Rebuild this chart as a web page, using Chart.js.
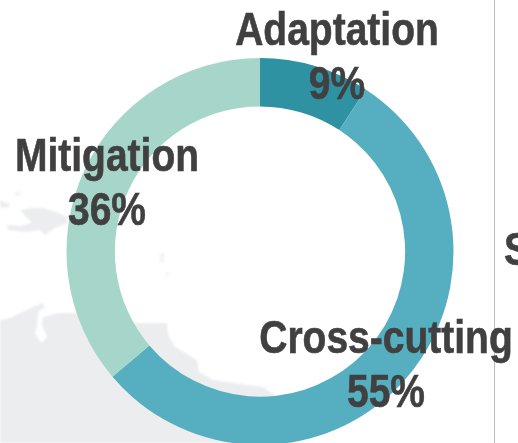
<!DOCTYPE html>
<html>
<head>
<meta charset="utf-8">
<style>
html, body { margin: 0; padding: 0; width: 518px; height: 443px; overflow: hidden; background: #fff; }
#map { position: absolute; left: 0; top: 0; filter: blur(0.8px); }
#wrap { position: absolute; left: 0; top: 0; width: 520px; height: 503px; }
#divider { position: absolute; left: 494px; top: 0; width: 1px; height: 443px; background: #bdbdbd; }
.lbl { position: absolute; color: #404040; font: bold 47px "Liberation Sans", sans-serif; -webkit-text-stroke: 0.6px #404040; text-align: center; line-height: 54px; white-space: nowrap; transform: translateX(-50%) scaleX(0.83); }
</style>
</head>
<body>
<!-- faint map behind the ring -->
<svg id="map" width="518" height="443">
  <path fill="#ecedef" d="M0 320 L10 318 L33 307 L42 303 L45 307 L38 312 L37 327 L35 333 L41 343 L47 337 L42 325 L43 317 L58 313 L77 313 L137 323 L167 323 L168 335 L175 347 L197 360 L199 372 L213 380 L263 387 L275 396 L275 443 L0 443 Z"/>
  <path fill="#ecedef" d="M0 200 L10 204 L7 208 L0 207 Z M20 210 L32 208 L43 208 L56 212 L67 217 L68 223 L55 228 L45 235 L40 230 L26 232 L8 230 L7 225 L20 226 L32 223 L25 216 Z"/>
  <path fill="#f3f4f5" d="M15 192 L22 191 L20 196 L15 196 Z M160 253 L164 253 L164 262 L160 262 Z M166 272 L169 272 L169 277 L166 277 Z"/>
</svg>
<div id="divider"></div>
<div id="wrap"><canvas id="donut"></canvas></div>
<div class="lbl" id="lbl0" style="left:337px;top:2px"></div>
<div class="lbl" id="lbl1" style="left:386px;top:310px"></div>
<div class="lbl" id="lbl2" style="left:107px;top:128px"></div>
<div class="lbl" style="left:517px;top:222px">S</div>
<script src="https://cdn.jsdelivr.net/npm/chart.js@4"></script>
<script>
const categories = ['Adaptation', 'Cross-cutting', 'Mitigation'];
const shares = [9.2, 54.6, 36.2];
const sliceColors = ['#2e92a3', '#55afc0', '#a6d6c9'];

// Labels show the rounded share
categories.forEach((name, i) => {
    document.getElementById('lbl' + i).innerHTML = name + '<br>' + Math.round(shares[i]) + '%';
});

new Chart(document.getElementById('donut').getContext('2d'), {
    type: 'doughnut',
    data: {
        labels: categories,
        datasets: [{
            data: shares,
            backgroundColor: sliceColors,
            borderWidth: 0
        }]
    },
    options: {
        responsive: true,
        maintainAspectRatio: false,
        animation: false,
        cutout: '75%',
        layout: { padding: { top: 58, bottom: 58 } },
        plugins: {
            legend: { display: false },
            tooltip: { enabled: false }
        }
    }
});
</script>
</body>
</html>
